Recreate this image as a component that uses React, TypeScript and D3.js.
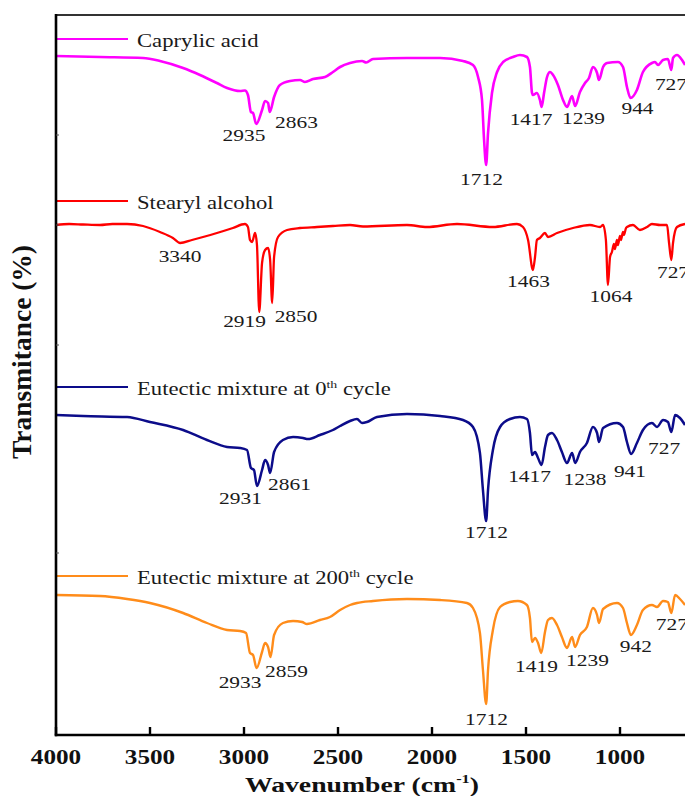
import React from "react";
import * as d3 from "d3";

type Pt = [number, number];

// Wavenumber (cm^-1), transmittance (offset, a.u.)
const caprylic: Pt[] = [
  [4000, 67.9], [3766, 67.8], [3537, 67.7], [3447, 67.4], [3324, 66.7], [3234, 66.0], [3144, 65.2],
  [3090, 64.7], [3021, 64.4], [2995, 64.45], [2979, 64.0], [2963, 62.3], [2952, 62.2], [2935, 61.1],
  [2904, 62.5], [2888, 63.4], [2872, 63.2], [2863, 62.3], [2840, 63.8], [2809, 65.0], [2755, 65.4],
  [2702, 65.5], [2676, 65.3], [2633, 65.6], [2569, 65.8], [2527, 66.3], [2489, 66.8], [2436, 67.2],
  [2372, 67.4], [2350, 67.25], [2314, 67.6], [2133, 67.7], [1957, 67.7], [1835, 67.4], [1782, 67.0],
  [1755, 65.8], [1734, 63.5], [1723, 59.5], [1712, 57.0], [1702, 60.2], [1681, 64.2], [1654, 66.3],
  [1622, 67.3], [1569, 67.8], [1532, 68.0], [1495, 67.8], [1479, 66.8], [1468, 64.2], [1463, 64.0],
  [1442, 64.2], [1426, 63.5], [1417, 62.8], [1404, 64.2], [1388, 65.8], [1372, 66.3], [1356, 66.0],
  [1330, 65.0], [1303, 63.5], [1282, 62.8], [1255, 63.9], [1239, 62.9], [1213, 64.3], [1186, 65.2],
  [1165, 65.7], [1144, 66.8], [1122, 66.2], [1112, 65.5], [1090, 66.8], [1069, 67.2], [1011, 67.3],
  [984, 66.8], [963, 64.8], [944, 63.7], [910, 64.5], [878, 66.3], [830, 67.2], [814, 67.3],
  [798, 67.0], [771, 67.5], [745, 67.6], [727, 66.5], [718, 67.7], [697, 68.0], [670, 67.5], [654, 67.0],
];

const stearyl: Pt[] = [
  [4000, 51.0], [3930, 51.1], [3856, 51.05], [3766, 51.0], [3700, 51.1], [3622, 51.1], [3537, 50.9],
  [3447, 50.3], [3378, 49.7], [3340, 49.2], [3277, 49.5], [3218, 49.8], [3144, 50.2], [3059, 50.7],
  [2995, 51.1], [2979, 50.8], [2968, 49.5], [2957, 49.3], [2941, 50.2], [2931, 49.0], [2919, 42.3],
  [2904, 47.2], [2888, 48.5], [2872, 48.7], [2861, 47.5], [2850, 43.2], [2840, 47.8], [2819, 49.8],
  [2771, 50.5], [2702, 50.7], [2612, 50.8], [2527, 50.9], [2436, 51.0], [2367, 50.85], [2133, 51.0],
  [2027, 50.8], [1867, 51.1], [1676, 50.8], [1548, 51.1], [1516, 50.8], [1489, 49.5], [1463, 46.5],
  [1452, 47.8], [1442, 49.5], [1426, 49.7], [1399, 50.2], [1383, 49.8], [1335, 50.2], [1250, 50.7],
  [1160, 51.0], [1106, 50.8], [1090, 51.0], [1075, 49.5], [1064, 45.0], [1053, 47.8], [1043, 48.3],
  [1032, 49.1], [1027, 48.6], [1016, 49.5], [1011, 49.0], [1000, 49.9], [995, 49.5], [984, 50.3],
  [979, 50.0], [968, 50.7], [963, 50.8], [931, 51.0], [894, 50.5], [856, 50.8], [830, 51.1],
  [787, 51.0], [750, 51.0], [739, 49.2], [727, 47.5], [718, 49.2], [697, 50.8], [654, 51.1],
];

const eutectic0: Pt[] = [
  [4000, 32.0], [3856, 31.9], [3622, 31.8], [3500, 31.3], [3324, 30.5], [3197, 29.5], [3090, 28.8],
  [3021, 28.7], [2984, 28.5], [2963, 26.7], [2947, 26.5], [2931, 24.9], [2904, 26.5], [2888, 27.5],
  [2872, 27.0], [2861, 26.2], [2840, 28.3], [2793, 29.5], [2739, 29.8], [2686, 29.7], [2660, 29.6],
  [2596, 30.0], [2527, 30.5], [2489, 30.9], [2436, 31.4], [2399, 31.6], [2372, 31.2], [2346, 31.3],
  [2293, 31.8], [2133, 32.1], [1957, 31.9], [1835, 31.5], [1782, 30.8], [1745, 28.2], [1729, 24.5],
  [1712, 21.4], [1702, 24.5], [1676, 28.5], [1638, 30.8], [1585, 31.6], [1532, 31.8], [1495, 31.6],
  [1479, 30.2], [1468, 28.0], [1452, 28.3], [1436, 27.7], [1417, 27.0], [1399, 28.8], [1383, 30.0],
  [1362, 30.2], [1335, 29.5], [1309, 28.3], [1282, 27.2], [1255, 28.2], [1238, 27.2], [1213, 28.3],
  [1176, 29.2], [1144, 30.8], [1122, 30.2], [1112, 29.3], [1090, 30.7], [1016, 31.2], [984, 30.8],
  [963, 29.3], [941, 28.1], [910, 29.2], [878, 30.5], [830, 31.2], [803, 30.8], [771, 31.5],
  [745, 31.3], [727, 30.3], [707, 32.0], [681, 31.7], [654, 31.0],
];

const eutectic200: Pt[] = [
  [4000, 14.0], [3766, 13.9], [3622, 13.6], [3500, 13.2], [3324, 12.2], [3197, 11.2], [3090, 10.5],
  [3021, 10.4], [2989, 10.2], [2968, 8.2], [2952, 8.0], [2933, 6.7], [2904, 8.3], [2888, 9.2],
  [2872, 8.8], [2859, 7.8], [2840, 10.0], [2793, 11.2], [2739, 11.4], [2691, 11.3], [2665, 11.1],
  [2596, 11.5], [2543, 11.8], [2489, 12.5], [2436, 13.0], [2399, 13.2], [2314, 13.4], [2133, 13.6],
  [1957, 13.5], [1814, 13.2], [1782, 12.7], [1745, 10.2], [1729, 6.5], [1712, 3.1], [1702, 6.5],
  [1676, 10.5], [1638, 12.8], [1585, 13.3], [1543, 13.4], [1495, 13.0], [1479, 11.7], [1468, 9.3],
  [1452, 9.7], [1436, 9.2], [1419, 8.2], [1399, 10.3], [1383, 11.5], [1362, 11.7], [1335, 11.0],
  [1309, 9.8], [1282, 8.7], [1255, 9.8], [1239, 8.8], [1213, 10.0], [1176, 10.8], [1144, 12.7],
  [1122, 12.0], [1112, 11.2], [1090, 12.6], [1016, 13.2], [984, 12.7], [963, 11.2], [942, 10.0],
  [910, 11.0], [878, 12.5], [830, 13.0], [803, 12.8], [771, 13.4], [745, 13.3], [727, 12.2],
  [707, 14.0], [681, 13.6], [654, 13.0],
];

// Peak labels: [text, wavenumber of label centre, baseline value]
type Lab = [string, number, number];
const caprylicLabels: Lab[] = [
  ["2935", 3000, 59.4], ["2863", 2721, 60.7], ["1712", 1737, 55.0], ["1417", 1473, 61.0],
  ["1239", 1194, 61.1], ["944", 907, 62.1], ["727", 729, 64.5],
];
const stearylLabels: Lab[] = [
  ["3340", 3340, 47.3], ["2919", 2997, 40.8], ["2850", 2723, 41.3], ["1463", 1487, 44.8],
  ["1064", 1048, 43.3], ["727", 718, 45.7],
];
const eutectic0Labels: Lab[] = [
  ["2931", 3019, 23.1], ["2861", 2758, 24.5], ["1712", 1710, 19.7], ["1417", 1481, 25.3],
  ["1238", 1186, 25.0], ["941", 947, 25.8], ["727", 765, 28.1],
];
const eutectic200Labels: Lab[] = [
  ["2933", 3021, 4.7], ["2859", 2774, 5.8], ["1712", 1710, 1.0], ["1419", 1444, 6.3],
  ["1239", 1173, 6.9], ["942", 916, 8.3], ["727", 724, 10.5],
];

const xTicks = [4000, 3500, 3000, 2500, 2000, 1500, 1000];

const seriesNames = ["Caprylic acid", "Stearyl alcohol", "Eutectic mixture at 0", "Eutectic mixture at 200"];
const seriesColors = ["#FF00FF", "#FF0000", "#0C0C8A", "#FF8C1A"];

const FONT = "'Liberation Serif', 'Times New Roman', Times, serif";
const SX = 1.26;

function SText(props: {
  x: number; y: number; size: number; anchor?: string; weight?: string | number;
  fill?: string; children: React.ReactNode;
}) {
  const { x, y, size, anchor = "start", weight = "normal", fill = "#1a1a1a", children } = props;
  return (
    <g transform={`translate(${x},${y}) scale(${SX},1)`}>
      <text x={0} y={0} fontSize={size} textAnchor={anchor as any} fontWeight={weight} fill={fill} fontFamily={FONT}>
        {children}
      </text>
    </g>
  );
}

export default function App() {
  const W = 685, H = 796;
  const left = 56, top = 15, bottom = 735;
  const x = d3.scaleLinear().domain([4000, 1000]).range([left, 620]);
  const y = d3.scaleLinear().domain([0, 72]).range([bottom, top]);
  const line = d3.line<Pt>().x((d) => x(d[0])).y((d) => y(d[1])).curve(d3.curveMonotoneX);

  const series = [caprylic, stearyl, eutectic0, eutectic200];
  const labels = [caprylicLabels, stearylLabels, eutectic0Labels, eutectic200Labels];
  const legendY = [39, 201, 387, 576];
  const widths = [2.6, 2.3, 2.5, 2.4];

  return (
    <svg width={W} height={H} style={{ position: "absolute", left: 0, top: 0, background: "#fff" }}>
      <defs>
        <clipPath id="plotclip">
          <rect x={left} y={0} width={W - left} height={bottom} />
        </clipPath>
      </defs>
      <rect x={0} y={0} width={W} height={H} fill="#fff" />

      {/* frame */}
      <line x1={left} x2={W} y1={top} y2={top} stroke="#333" strokeWidth={2.2} />

      {/* series */}
      <g clipPath="url(#plotclip)">
        {series.map((s, i) => (
          <path key={i} d={line(s) || ""} fill="none" stroke={seriesColors[i]} strokeWidth={widths[i]} strokeLinejoin="round" />
        ))}
      </g>

      {/* legends */}
      {seriesNames.map((n, i) => (
        <g key={n}>
          <line x1={left} x2={128} y1={legendY[i]} y2={legendY[i]} stroke={seriesColors[i]} strokeWidth={2} />
          <SText x={137} y={legendY[i] + 8} size={18}>
            {n}
            {i >= 2 && (
              <>
                <tspan fontSize={11} dy={-7}>th</tspan>
                <tspan dy={7}> cycle</tspan>
              </>
            )}
          </SText>
        </g>
      ))}

      {/* peak labels */}
      {labels.map((ls, i) =>
        ls.map(([t, wn, v]) => (
          <SText key={i + t + wn} x={x(wn)} y={y(v)} size={17} anchor="middle">{t}</SText>
        ))
      )}

      {/* axes */}
      <line x1={left} x2={left} y1={top - 1} y2={bottom + 1.2} stroke="#000" strokeWidth={2.6} />
      <line x1={left - 1.2} x2={W} y1={bottom} y2={bottom} stroke="#000" strokeWidth={2.6} />
      {xTicks.map((t) => (
        <g key={t}>
          <line x1={x(t)} x2={x(t)} y1={bottom} y2={bottom - 8} stroke="#000" strokeWidth={2.4} />
          <SText x={x(t)} y={764} size={20} weight="bold" anchor="middle" fill="#111">{t}</SText>
        </g>
      ))}
      {[135, 225, 345, 553].map((yy) => (
        <line key={yy} x1={left} x2={left + 3} y1={yy} y2={yy} stroke="#555" strokeWidth={1} />
      ))}

      {/* axis titles */}
      <SText x={362} y={792} size={22} weight="bold" anchor="middle" fill="#111">
        Wavenumber (cm<tspan fontSize={13} dy={-9}>-1</tspan><tspan dy={9}>)</tspan>
      </SText>
      <g transform={`translate(31,352) rotate(-90) scale(1,1.02)`}>
        <text x={0} y={0} fontSize={27.5} fontWeight="bold" textAnchor="middle" fontFamily={FONT} fill="#111">
          Transmitance (%)
        </text>
      </g>
    </svg>
  );
}
